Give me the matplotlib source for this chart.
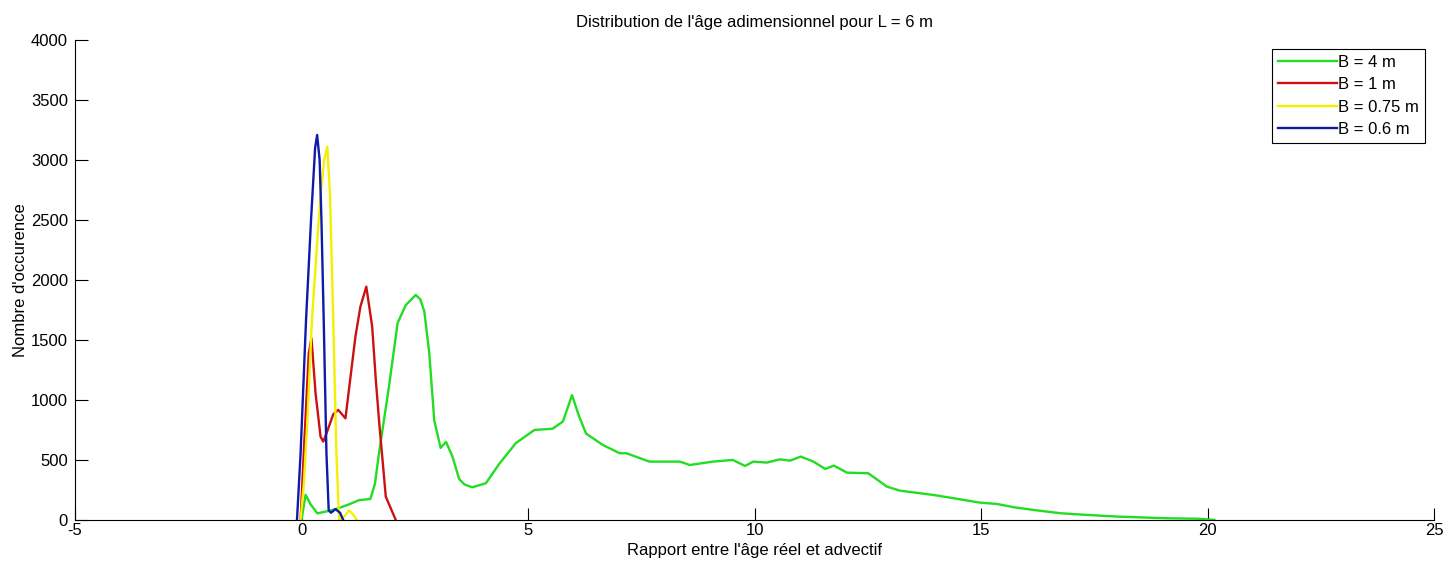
import numpy as np
import matplotlib
matplotlib.use("Agg")
import matplotlib.pyplot as plt

plt.rcParams['font.family'] = ['Liberation Sans', 'DejaVu Sans']
plt.rcParams['axes.unicode_minus'] = False

# B = 4 m
x_b4 = [0.0, 0.09, 0.2, 0.35, 0.6, 0.83, 1.05, 1.27, 1.52, 1.62, 1.71, 1.93, 2.12,
        2.30, 2.52, 2.62, 2.71, 2.82, 2.93, 3.07, 3.19, 3.33, 3.48, 3.6, 3.77, 4.07,
        4.37, 4.73, 5.14, 5.54, 5.77, 5.97, 6.13, 6.28, 6.65, 7.02, 7.17, 7.68, 8.35,
        8.57, 9.08, 9.52, 9.79, 9.97, 10.27, 10.56, 10.78, 11.02, 11.30, 11.56, 11.75,
        12.04, 12.51, 12.92, 13.21, 13.95, 14.39, 14.98, 15.35, 15.72, 16.16, 16.75,
        17.2, 18.0, 19.1, 19.8, 20.15]
y_b4 = [0, 210, 130, 55, 75, 100, 130, 165, 175, 300, 555, 1110, 1640,
        1790, 1875, 1840, 1740, 1390, 830, 600, 650, 530, 340, 295, 272, 306,
        470, 640, 750, 760, 820, 1040, 860, 720, 625, 556, 556, 486, 486,
        458, 486, 500, 450, 486, 478, 505, 494, 528, 486, 425, 453,
        394, 389, 278, 244, 208, 181, 144, 133, 106, 83, 56,
        45, 28, 14, 10, 0]

# B = 1 m
x_b1 = [-0.02, 0.05, 0.16, 0.22, 0.31, 0.42, 0.48, 0.55, 0.7, 0.81, 0.97, 1.19,
        1.30, 1.43, 1.56, 1.64, 1.71, 1.86, 2.08]
y_b1 = [0, 558, 1389, 1514, 1056, 694, 653, 720, 880, 917, 847, 1528,
        1778, 1944, 1611, 1167, 833, 194, 0]

# B = 0.75 m
x_b075 = [-0.02, 0.05, 0.13, 0.23, 0.38, 0.44, 0.50, 0.57, 0.63, 0.70, 0.77, 0.83,
          0.95, 1.05, 1.15, 1.22]
y_b075 = [0, 300, 833, 1667, 2500, 2780, 3000, 3111, 2700, 1667, 558, 0,
          30, 80, 40, 0]

# B = 0.6 m
x_b06 = [-0.1, -0.02, 0.10, 0.21, 0.30, 0.345, 0.40, 0.44, 0.49, 0.55, 0.6,
         0.65, 0.75, 0.85, 0.92]
y_b06 = [0, 558, 1667, 2500, 3100, 3208, 3000, 2500, 1667, 558, 80,
         60, 90, 60, 0]

labels = ['B = 4 m', 'B = 1 m', 'B = 0.75 m', 'B = 0.6 m']
colors = ['#22dd22', '#cc1111', '#f5f000', '#0f1aaa']

fig = plt.figure(figsize=(14.56, 5.67), dpi=100)
ax = fig.add_axes([0.0515, 0.083, 0.9335, 0.8465])

series = [(x_b4, y_b4), (x_b1, y_b1), (x_b075, y_b075), (x_b06, y_b06)]
for (xs, ys), lab, col in zip(series, labels, colors):
    ax.plot(xs, ys, color=col, lw=1.7, label=lab)

ax.set_xlim(-5, 25)
ax.set_ylim(0, 4000)
ax.set_xticks(np.arange(-5, 26, 5))
ax.set_yticks(np.arange(0, 4001, 500))
ax.spines['top'].set_visible(False)
ax.spines['right'].set_visible(False)
ax.tick_params(direction='in', length=9, width=0.8, labelsize=12)
ax.tick_params(axis='x', pad=2)
ax.tick_params(axis='y', pad=5)

ax.set_title("Distribution de l'âge adimensionnel pour L = 6 m", fontsize=12, pad=9)
ax.set_xlabel("Rapport entre l'âge réel et advectif", fontsize=12, labelpad=4)
ax.set_ylabel("Nombre d'occurence", fontsize=12, labelpad=2)

leg = ax.legend(loc='upper right', fontsize=12, handlelength=3.5, handletextpad=0.1,
                labelspacing=0.44, borderaxespad=0.55, borderpad=0.35,
                fancybox=False, framealpha=1)
leg.get_frame().set_edgecolor('black')
leg.get_frame().set_linewidth(0.8)

fig.savefig('out.png', dpi=100)
